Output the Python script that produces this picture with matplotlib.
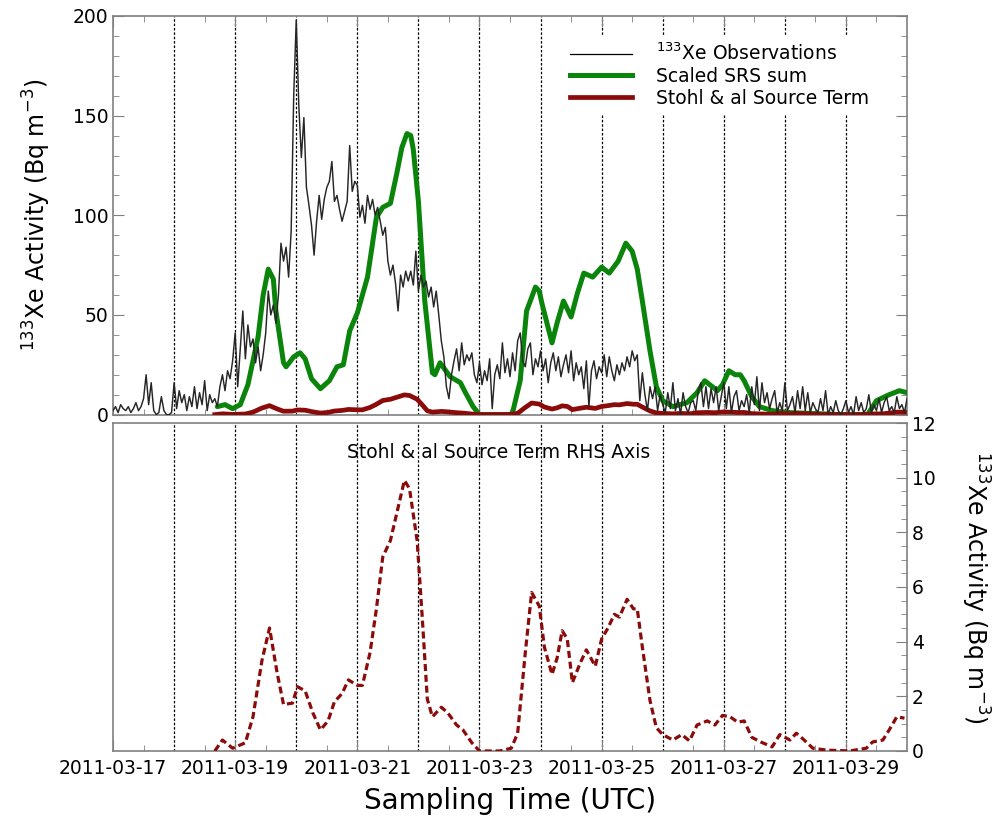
import matplotlib
matplotlib.use("Agg")
import matplotlib.pyplot as plt
import matplotlib.dates as mdates
from matplotlib.lines import Line2D
from matplotlib.ticker import MultipleLocator
import numpy as np
import pandas as pd

START = pd.Timestamp("2011-03-17 00:00")
END = pd.Timestamp("2011-03-30 00:00")

# 133Xe observations, hourly readings from 2011-03-17 00:00 (Bq m-3)
obs_0317 = [2, 4, 1, 5, 3, 2, 4, 1, 3, 6, 2, 4, 8, 20, 5, 16, 2, 0, 1, 9, 2, 0, 0, 1]
obs_0318 = [16, 3, 12, 6, 10, 2, 9, 4, 14, 3, 11, 5, 17, 2, 10, 6, 8, 4, 14, 20, 12, 22, 18, 27]
obs_0319 = [41, 14, 33, 52, 28, 45, 34, 38, 26, 34, 22, 30, 41, 62, 50, 55, 46, 60, 86, 77, 84, 69, 92, 160]
obs_0320 = [198, 155, 129, 149, 114, 105, 95, 80, 97, 110, 98, 108, 114, 117, 127, 107, 110, 103, 97, 102, 107, 135, 112, 117]
obs_0321 = [115, 99, 105, 96, 110, 103, 108, 100, 104, 97, 90, 94, 77, 70, 75, 66, 52, 70, 64, 72, 67, 72, 65, 82]
obs_0322 = [62, 70, 64, 67, 59, 64, 54, 62, 50, 37, 29, 14, 8, 20, 27, 33, 22, 36, 25, 30, 27, 31, 20, 16]
obs_0323 = [26, 15, 22, 17, 28, 3, 20, 25, 18, 36, 21, 28, 19, 31, 22, 37, 41, 27, 24, 33, 36, 20, 28, 24]
obs_0324 = [32, 22, 28, 16, 26, 31, 22, 29, 19, 25, 30, 21, 32, 17, 26, 20, 24, 13, 27, 4, 22, 27, 18, 24]
obs_0325 = [21, 30, 19, 29, 22, 17, 25, 20, 26, 22, 29, 24, 32, 27, 30, 7, 21, 10, 2, 14, 8, 14, 2, 10]
obs_0326 = [5, 1, 11, 3, 16, 2, 8, 0, 11, 4, 1, 6, 7, 2, 12, 16, 4, 14, 3, 13, 6, 14, 2, 9]
obs_0327 = [16, 3, 14, 1, 9, 12, 2, 7, 4, 10, 1, 14, 5, 19, 2, 16, 6, 11, 3, 8, 12, 1, 6, 2]
obs_0328 = [16, 2, 5, 9, 1, 12, 3, 14, 2, 11, 1, 6, 3, 1, 8, 2, 12, 0, 4, 1, 7, 2, 0, 3]
obs_0329 = [7, 1, 4, 0, 9, 2, 6, 1, 3, 10, 1, 5, 2, 8, 1, 6, 9, 2, 4, 1, 9, 3, 5, 1, 8]

# Scaled SRS sum: hours after 2011-03-17 00:00, value
srs_hours = [41, 44, 47, 50, 53, 57, 59, 61, 63, 64, 67, 68, 71, 73.5, 75.5, 78, 81.5, 85, 88, 90.5,
             93, 96, 100, 103.5, 106, 109, 111.5, 113.5, 115.5, 117, 118, 120, 122.5, 125.5, 126.5,
             128.5, 132.5, 136.5, 138.5, 141.5, 144, 156, 157, 160, 162.5, 166, 167.5, 168.5, 169.5,
             172.5, 174.5, 177, 180, 182.5, 185, 188.5, 192, 195, 198.5, 201.5, 204, 206, 208, 211,
             213.5, 216, 220, 225.5, 229.5, 232.5, 235.5, 237.5, 239.5, 242, 244.5, 246.5, 248, 251,
             254, 259, 266, 276.5, 285.5, 296.5, 300, 305, 309, 312]
srs_values = [4, 5, 3, 5, 15, 39, 60, 73, 68, 52, 26, 24, 29, 31, 28, 18, 13, 17, 24, 25,
              42, 51, 69, 99, 104, 106, 121, 134, 141, 140, 133, 107, 57, 21, 20,
              26, 19, 16, 11, 4, 0, 0, 1, 17, 52, 64, 62, 56, 51,
              36, 46, 57, 49, 61, 71, 69, 74, 71, 77, 86, 82, 73, 57, 32,
              14, 7, 4, 6, 11, 17, 14, 12, 15, 22, 20, 20, 17, 9,
              4, 2, 1, 0.5, 0, 0, 7, 10, 12, 11]

# Stohl & al source term: hours after 2011-03-17 00:00, value
stohl_hours = [40, 43, 47, 52, 55, 58.5, 61.5, 64.5, 67, 70.5, 72.5, 75.5, 78.5, 81.5, 84.5, 87, 90,
               92.5, 96, 98, 101, 103.5, 106, 109, 111.5, 114.5, 116.5, 119.5, 121.5, 123.5, 125.5,
               129, 131.5, 135, 137.5, 141, 144, 152, 156.5, 159, 162, 164.5, 167.5, 169.5, 172.5,
               174.5, 176.5, 178.5, 180.5, 183.5, 186, 189.5, 192, 194.5, 197, 199, 202, 204.5, 206,
               208, 211, 213.5, 216, 220, 223.5, 226.5, 229.5, 233.5, 236.5, 239.5, 242.5, 245.5,
               248, 251, 254.5, 259, 262, 266, 268.5, 271, 275, 280.5, 289.5, 296, 298.5, 302.5,
               305, 308, 311]
stohl_values = [0, 0.4, 0.1, 0.3, 1.25, 3.3, 4.5, 2.85, 1.7, 1.75, 2.35, 2.2, 1.4, 0.77, 1.1, 1.8, 2.1,
                2.6, 2.4, 2.4, 3.6, 5.2, 7.1, 7.7, 8.7, 9.9, 9.6, 7.7, 4.9, 1.9, 1.25,
                1.6, 1.4, 0.95, 0.77, 0.3, 0, 0, 0.1, 0.65, 3.6, 5.8, 5.3, 3.8, 2.8,
                3.4, 4.4, 4.1, 2.5, 3.2, 3.7, 3.1, 4.1, 4.5, 5.0, 4.9, 5.55, 5.2, 5.2,
                3.8, 1.85, 0.85, 0.6, 0.4, 0.6, 0.37, 0.95, 1.1, 0.95, 1.3, 1.25, 1.05,
                1.1, 0.5, 0.33, 0.15, 0.6, 0.4, 0.65, 0.45, 0.1, 0.03, 0, 0.1, 0.33, 0.4,
                0.77, 1.25, 1.2]

obs = np.concatenate([obs_0317, obs_0318, obs_0319, obs_0320, obs_0321, obs_0322, obs_0323,
                      obs_0324, obs_0325, obs_0326, obs_0327, obs_0328, obs_0329])
obs_time = START + pd.to_timedelta(np.arange(len(obs)), unit="h")
srs_time = START + pd.to_timedelta(srs_hours, unit="h")
stohl_time = START + pd.to_timedelta(stohl_hours, unit="h")

plt.rcParams["font.family"] = "DejaVu Sans"
plt.rcParams["mathtext.fontset"] = "dejavusans"

GREEN = "#0a840a"
DARKRED = "#8b0a0a"
SPINE = "#808080"
TICK_FS = 13.5
YLABEL = r"$^{133}$Xe Activity (Bq m$^{-3}$)"

fig = plt.figure(figsize=(10.02, 8.16), dpi=100)
ax1 = fig.add_axes([0.1128, 0.4919, 0.7924, 0.4885])
ax2 = fig.add_axes([0.1128, 0.0797, 0.7924, 0.4019], sharex=ax1)

days = pd.date_range("2011-03-18", "2011-03-29", freq="D")
for ax in (ax1, ax2):
    for d in days:
        ax.axvline(d, color="black", lw=0.9, ls=(0, (2, 1.5)), zorder=1)
    for s in ax.spines.values():
        s.set_color(SPINE)
        s.set_linewidth(1.2)

# top panel
ax1.plot(srs_time, srs_values, color=GREEN, lw=3.6, solid_joinstyle="round",
         solid_capstyle="round", zorder=3)
ax1.plot(stohl_time, stohl_values, color=DARKRED, lw=3.4, solid_joinstyle="round", zorder=3)
ax1.plot(obs_time, obs, color="#262626", lw=1.05, zorder=4)
ax1.set_ylim(0, 200)
ax1.set_xlim(START, END)
ax1.yaxis.set_major_locator(MultipleLocator(50))
ax1.yaxis.set_minor_locator(MultipleLocator(10))
ax1.tick_params(axis="y", which="both", direction="in", left=True, right=True,
                labelsize=TICK_FS, colors="black")
ax1.tick_params(axis="both", which="major", length=8, color=SPINE)
ax1.tick_params(axis="both", which="minor", length=4, color=SPINE)
ax1.tick_params(axis="x", which="both", direction="in", top=True, bottom=True, labelbottom=False)
ax1.set_ylabel(YLABEL, fontsize=17, labelpad=14)

handles = [
    Line2D([], [], color="black", lw=0.9),
    Line2D([], [], color=GREEN, lw=3.6),
    Line2D([], [], color=DARKRED, lw=3.4),
]
labels = [r"$^{133}$Xe Observations", "Scaled SRS sum", "Stohl & al Source Term"]
leg = ax1.legend(handles, labels, loc="upper left", bbox_to_anchor=(0.566, 0.952),
                 borderaxespad=0, fontsize=13.5, frameon=True, facecolor="white",
                 edgecolor="none", framealpha=1, handlelength=3.3, handletextpad=1.3,
                 labelspacing=0.15, borderpad=0.4)
leg.set_zorder(5)

# bottom panel
ax2.plot(stohl_time, stohl_values, color=DARKRED, lw=2.3, ls=(0, (2.2, 1.2)), zorder=3)
ax2.set_ylim(0, 12)
ax2.yaxis.tick_right()
ax2.yaxis.set_label_position("right")
ax2.yaxis.set_major_locator(MultipleLocator(2))
ax2.yaxis.set_minor_locator(MultipleLocator(0.5))
ax2.tick_params(axis="y", which="both", direction="in", left=False, right=True,
                labelsize=TICK_FS)
ax2.tick_params(axis="both", which="major", length=8, color=SPINE)
ax2.tick_params(axis="both", which="minor", length=4, color=SPINE)
ax2.tick_params(axis="x", which="both", direction="in", top=False, bottom=True,
                labelsize=TICK_FS, pad=6)
ax2.set_ylabel(YLABEL, fontsize=17, rotation=270, labelpad=40)
ax2.text(0.295, 0.91, "Stohl & al Source Term RHS Axis", transform=ax2.transAxes,
         fontsize=13.5, ha="left", va="center", zorder=5)

ax2.xaxis.set_major_locator(mdates.DayLocator(bymonthday=[17, 19, 21, 23, 25, 27, 29]))
ax2.xaxis.set_major_formatter(mdates.DateFormatter("%Y-%m-%d"))
ax2.xaxis.set_minor_locator(mdates.HourLocator(byhour=12))
ax2.set_xlim(START, END)
ax2.set_xlabel("Sampling Time (UTC)", fontsize=20, labelpad=6)

fig.savefig("out.png", dpi=100)
